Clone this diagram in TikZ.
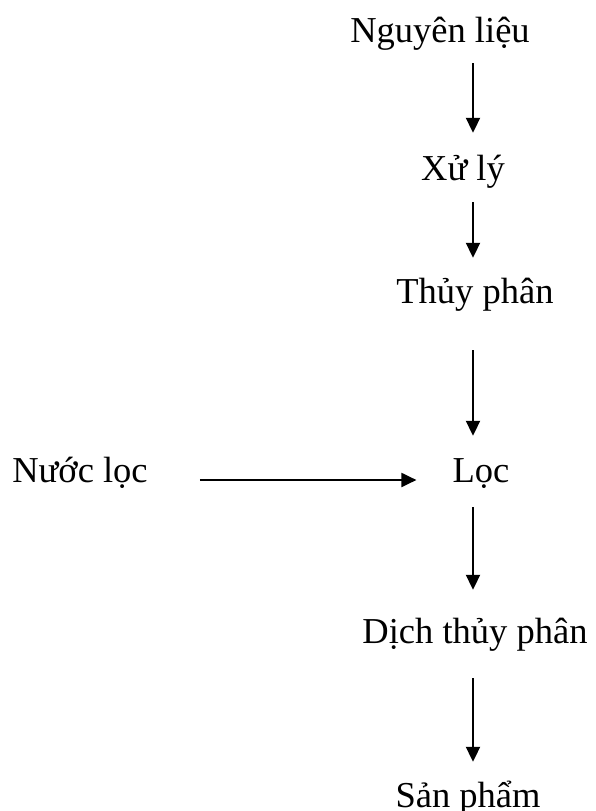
\documentclass[tikz,border=0pt]{standalone}
\usepackage{fontspec}
\setmainfont{Liberation Serif}
\usetikzlibrary{arrows.meta}
\begin{document}
\begin{tikzpicture}[x=1pt,y=-1pt,
  stage/.style={anchor=base,inner sep=0pt,text height=26pt,text depth=8pt,
    font=\fontsize{36.5}{40}\selectfont},
  flow/.style={line width=2pt,-{Triangle[width=14pt,length=15pt]}}]
\useasboundingbox (0,0) rectangle (595,811);
% column of stages
\node[stage] (nl)  at (440,42)  {Nguyên liệu};
\node[stage] (xl)  at (463,180) {Xử lý};
\node[stage] (tp)  at (475,303) {Thủy phân};
\node[stage] (loc) at (481,482) {Lọc};
\node[stage] (nuoc) at (80,482) {Nước lọc};
\node[stage] (dtp) at (475,643) {Dịch thủy phân};
\node[stage] (sp)  at (468,807) {Sản phẩm};
% axis of the vertical arrows and level of the side arrow
\coordinate (ax) at (473,0);
\coordinate (hy) at (0,480);
\draw[flow,shorten <=13pt,shorten >=21pt] (nl.south -| ax) -- (xl.north -| ax);
\draw[flow,shorten <=14pt,shorten >=19pt] (xl.south -| ax) -- (tp.north -| ax);
\draw[flow,shorten <=39pt,shorten >=20pt] (tp.south -| ax) -- (loc.north -| ax);
\draw[flow,shorten <=17pt,shorten >=27pt] (loc.south -| ax) -- (dtp.north -| ax);
\draw[flow,shorten <=27pt,shorten >=19pt] (dtp.south -| ax) -- (sp.north -| ax);
\draw[flow,shorten <=52pt,shorten >=36pt] (nuoc.east |- hy) -- (loc.west |- hy);
\end{tikzpicture}
\end{document}
